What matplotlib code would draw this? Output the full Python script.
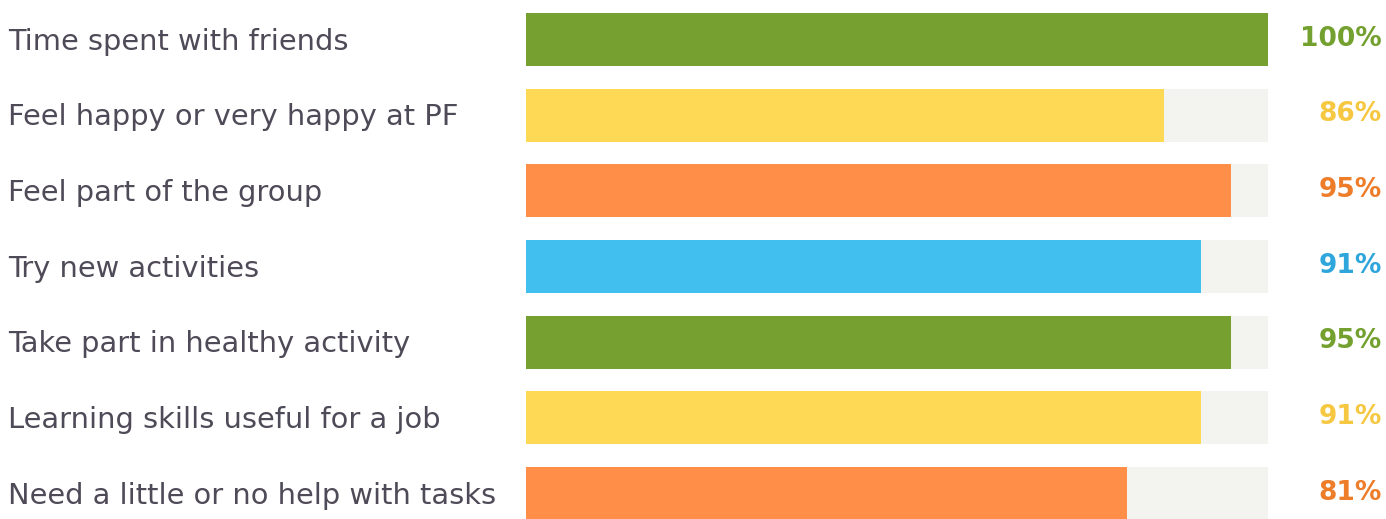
import matplotlib
matplotlib.use("Agg")
from matplotlib import pyplot as plt

categories = [
    "Time spent with friends",
    "Feel happy or very happy at PF",
    "Feel part of the group",
    "Try new activities",
    "Take part in healthy activity",
    "Learning skills useful for a job",
    "Need a little or no help with tasks",
]
values = [100, 86, 95, 91, 95, 91, 81]
bar_colors = ["#76a030", "#fdd955", "#ff8f48", "#41bfee", "#76a030", "#fdd955", "#ff8f48"]
text_colors = ["#73a02e", "#f6c842", "#ee7d2a", "#2ea6dc", "#73a02e", "#f6c842", "#ee7d2a"]

W, H = 1386, 519
fig = plt.figure(figsize=(W / 100, H / 100), dpi=100, facecolor="white")

# axes placed over the bar area (pixel coords from the reference)
left, right = 526, 1268
ax = fig.add_axes([left / W, 0, (right - left) / W, 1])
step = 75.67
first = 39.5
ax.set_ylim(6 + (H - (first + 6 * step)) / step, -first / step)
ax.set_xlim(0, 100)
ax.axis("off")

ypos = list(range(len(categories)))
ax.barh(ypos, [100] * len(values), height=0.70, color="#f3f4ef", linewidth=0)
ax.barh(ypos, values, height=0.70, color=bar_colors, linewidth=0)

label_x = (8 - left) / (right - left) * 100
pct_x = (1382 - left) / (right - left) * 100
for i, (cat, v, tc) in enumerate(zip(categories, values, text_colors)):
    ax.text(label_x, i + 0.03, cat, ha="left", va="center", fontsize=20.8,
            color="#4f4a57", family="DejaVu Sans", clip_on=False)
    ax.text(pct_x, i - 0.01, f"{v}%", ha="right", va="center", fontsize=19,
            fontweight="bold", color=tc, family="DejaVu Sans", clip_on=False)

fig.savefig("out.png", dpi=100, facecolor="white")
